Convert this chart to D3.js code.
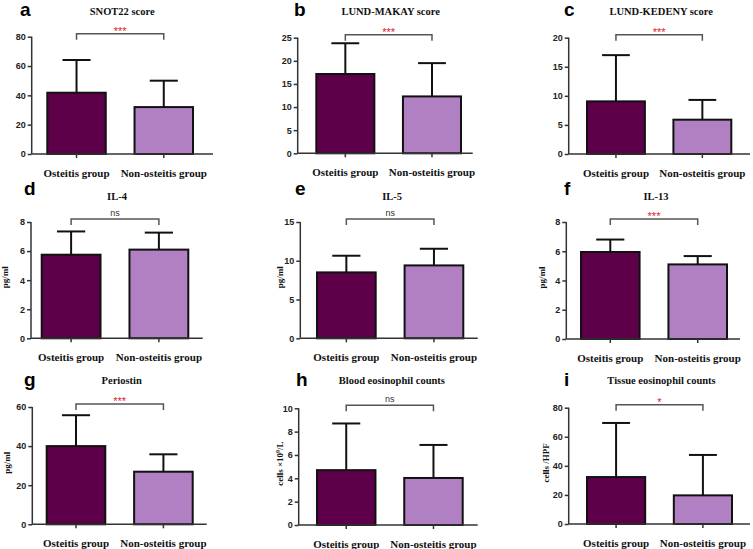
<!DOCTYPE html>
<html>
<head>
<meta charset="utf-8">
<script src="https://cdn.jsdelivr.net/npm/d3@7"></script>
<style>
  html, body { margin: 0; padding: 0; background: #fff; }
  svg { display: block; }
</style>
</head>
<body>
<svg id="chart" width="753" height="549"></svg>
<script>
// ---- data ----
const panelLetters = ["a", "b", "c", "d", "e", "f", "g", "h", "i"];
const panelTitles = ["SNOT22 score", "LUND-MAKAY score", "LUND-KEDENY score",
                     "IL-4", "IL-5", "IL-13",
                     "Periostin", "Blood eosinophil counts", "Tissue eosinophil counts"];
const categories = ["Osteitis group", "Non-osteitis group"];
const osteitisMean = [41.8, 17.15, 9.05, 5.75, 8.5, 5.95, 40.0, 4.7, 32.3];
const osteitisSD   = [22.3, 6.65, 7.95, 1.6, 2.15, 0.85, 15.8, 4.0, 37.2];
const nonMean      = [32.0, 12.3, 5.9, 6.1, 9.4, 5.1, 26.9, 4.03, 19.7];
const nonSD        = [18.0, 7.2, 3.4, 1.17, 2.15, 0.57, 8.9, 2.83, 27.8];
const yMax         = [80, 25, 20, 8, 15, 8, 60, 10, 80];
const yTickStep    = [20, 5, 5, 2, 5, 2, 20, 2, 20];
const significance = ["***", "***", "***", "ns", "ns", "***", "***", "ns", "*"];
const yAxisLabels  = ["", "", "", "pg/ml", "pg/ml", "pg/ml", "pg/ml", "cells \u00d710|9|/L", "cells /HPF"];

// ---- layout (pixel geometry per panel) ----
const layout = [
  {x0: 31.7,  x1: 213,   yTop: 36.7,  yBot: 154,   b1: 47.3,  b2: 193,   letterX: 20,  letterY: 16,  titleY: 15,  labX: 0},
  {x0: 297.7, x1: 472.7, yTop: 37.7,  yBot: 153.3, b1: 316.3, b2: 461,   letterX: 294, letterY: 16,  titleY: 15,  labX: 0},
  {x0: 568.7, x1: 750,   yTop: 37.7,  yBot: 154,   b1: 587,   b2: 731.3, letterX: 564, letterY: 16,  titleY: 15,  labX: 0},
  {x0: 31,    x1: 202.7, yTop: 222,   yBot: 338.3, b1: 41.7,  b2: 188.3, letterX: 24,  letterY: 195, titleY: 200, labX: 8},
  {x0: 300.3, x1: 477.7, yTop: 222,   yBot: 338.3, b1: 317,   b2: 463.3, letterX: 295, letterY: 195, titleY: 200, labX: 283},
  {x0: 566.3, x1: 740,   yTop: 222,   yBot: 339,   b1: 581,   b2: 727,   letterX: 564, letterY: 195, titleY: 200, labX: 545},
  {x0: 32.3,  x1: 206.7, yTop: 407,   yBot: 524.3, b1: 46.7,  b2: 192.7, letterX: 24,  letterY: 386, titleY: 384, labX: 10},
  {x0: 298.7, x1: 477.7, yTop: 408.3, yBot: 525,   b1: 317,   b2: 462.7, letterX: 296, letterY: 386, titleY: 384, labX: 283},
  {x0: 568.7, x1: 750,   yTop: 407.7, yBot: 524,   b1: 587,   b2: 732,   letterX: 564, letterY: 386, titleY: 384, labX: 548.5}
];

const darkColor = "#5e0049";
const lightColor = "#b080c2";
const axisColor = "#333";
const serif = "'Liberation Serif', 'Times New Roman', serif";
const sans = "'Liberation Sans', Arial, sans-serif";

const svg = d3.select("#chart");

panelLetters.forEach((letter, i) => {
  const L = layout[i];
  const g = svg.append("g");

  const y = d3.scaleLinear().domain([0, yMax[i]]).range([L.yBot, L.yTop]);
  const x = d3.scaleBand().domain(categories).range([L.b1, L.b2]).paddingInner(0.33).paddingOuter(0);

  const rows = [
    {cat: categories[0], mean: osteitisMean[i], sd: osteitisSD[i], color: darkColor},
    {cat: categories[1], mean: nonMean[i], sd: nonSD[i], color: lightColor}
  ];

  // error bars (upper only)
  const capHalf = x.bandwidth() * 0.24;
  rows.forEach(r => {
    const cx = x(r.cat) + x.bandwidth() / 2;
    g.append("line").attr("x1", cx).attr("x2", cx)
      .attr("y1", y(r.mean)).attr("y2", y(r.mean + r.sd))
      .attr("stroke", "#111").attr("stroke-width", 2);
    g.append("line").attr("x1", cx - capHalf).attr("x2", cx + capHalf)
      .attr("y1", y(r.mean + r.sd)).attr("y2", y(r.mean + r.sd))
      .attr("stroke", "#111").attr("stroke-width", 2);
  });

  // bars
  g.selectAll("rect.bar").data(rows).enter().append("rect")
    .attr("class", "bar")
    .attr("x", d => x(d.cat))
    .attr("y", d => y(d.mean))
    .attr("width", x.bandwidth())
    .attr("height", d => y(0) - y(d.mean))
    .attr("fill", d => d.color)
    .attr("stroke", "#111")
    .attr("stroke-width", 2);

  // y axis
  const ticks = d3.range(0, yMax[i] + 1e-9, yTickStep[i]);
  const yAxis = d3.axisLeft(y).tickValues(ticks).tickSize(4).tickPadding(2).tickFormat(d3.format("d"));
  const ya = g.append("g").attr("transform", `translate(${L.x0},0)`).call(yAxis);
  ya.select(".domain").attr("stroke", axisColor).attr("stroke-width", 1.5).attr("d", `M0,${L.yTop}V${L.yBot}`);
  ya.selectAll(".tick line").attr("stroke", axisColor).attr("stroke-width", 1.5);
  ya.selectAll(".tick text").attr("font-family", sans).attr("font-weight", "bold")
    .attr("font-size", 9).attr("fill", "#222");

  // x axis
  const xAxis = d3.axisBottom(x).tickSize(4).tickPadding(11);
  const xa = g.append("g").attr("transform", `translate(0,${L.yBot})`).call(xAxis);
  xa.select(".domain").attr("stroke", axisColor).attr("stroke-width", 1.5).attr("d", `M${L.x0},0H${L.x1}`);
  xa.selectAll(".tick line").attr("stroke", axisColor).attr("stroke-width", 1.5);
  xa.selectAll(".tick text").attr("font-family", serif).attr("font-weight", "bold")
    .attr("font-size", 11).attr("fill", "#111").attr("dy", "0.71em");

  // title
  g.append("text").attr("x", (L.b1 + L.b2) / 2 + 2).attr("y", L.titleY)
    .attr("text-anchor", "middle").attr("font-family", serif).attr("font-weight", "bold")
    .attr("font-size", 10.5).attr("fill", "#111").text(panelTitles[i]);

  // panel letter
  g.append("text").attr("x", L.letterX).attr("y", L.letterY)
    .attr("font-family", sans).attr("font-weight", "bold").attr("font-size", 19)
    .attr("fill", "#000").text(letter);

  // significance bracket
  const c1 = x(categories[0]) + x.bandwidth() / 2;
  const c2 = x(categories[1]) + x.bandwidth() / 2;
  const by = L.yTop - 3;
  g.append("path").attr("d", `M${c1},${by + 6}V${by}H${c2}V${by + 6}`)
    .attr("fill", "none").attr("stroke", "#555").attr("stroke-width", 1.5);
  const isNs = significance[i] === "ns";
  g.append("text").attr("x", (c1 + c2) / 2).attr("y", isNs ? by - 3 : by + 1)
    .attr("text-anchor", "middle").attr("font-family", sans)
    .attr("font-size", isNs ? 9 : 11).attr("fill", isNs ? "#333" : "#e0202a")
    .text(significance[i]);

  // y-axis label
  if (yAxisLabels[i]) {
    const t = g.append("text")
      .attr("transform", `translate(${L.labX},${(L.yTop + L.yBot) / 2 - 3}) rotate(-90)`)
      .attr("text-anchor", "middle").attr("font-family", serif).attr("font-weight", "bold")
      .attr("font-size", 9).attr("fill", "#111");
    const parts = yAxisLabels[i].split("|");
    if (parts.length === 3) {
      t.append("tspan").text(parts[0]);
      t.append("tspan").attr("font-size", 6).attr("dy", -3).text(parts[1]);
      t.append("tspan").attr("dy", 3).text(parts[2]);
    } else {
      t.text(parts[0]);
    }
  }
});
</script>
</body>
</html>
